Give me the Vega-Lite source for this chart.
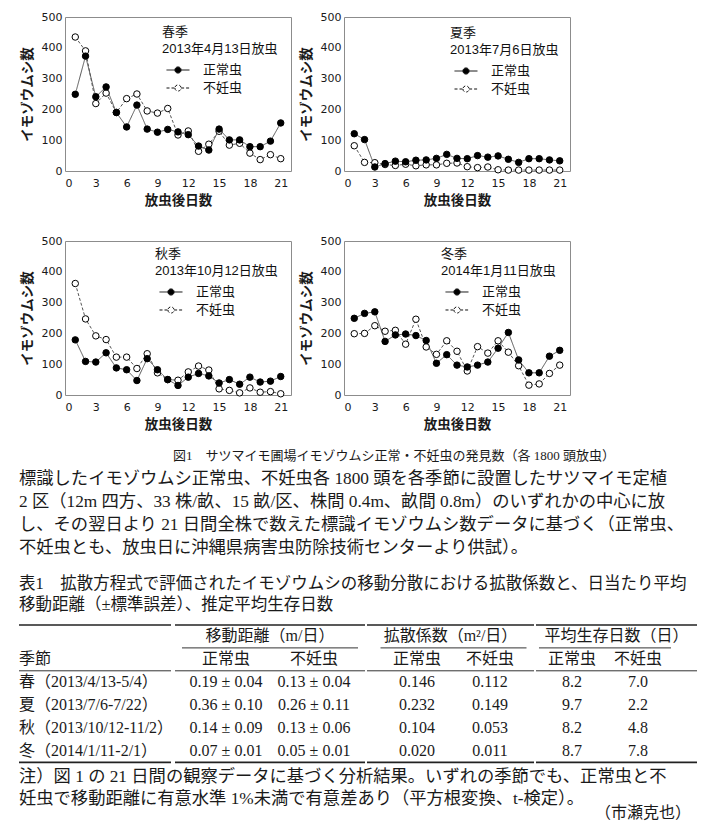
{
"$schema": "https://vega.github.io/schema/vega-lite/v6.json",
"padding": {"left": 18, "top": 10, "right": 0, "bottom": 0},
"background": "white",
"datasets": {
"obs": [
{"season":"春季","day":1,"正常虫":249,"不妊虫":435},{"season":"春季","day":2,"正常虫":373,"不妊虫":390},{"season":"春季","day":3,"正常虫":241,"不妊虫":219},{"season":"春季","day":4,"正常虫":273,"不妊虫":253},{"season":"春季","day":5,"正常虫":190,"不妊虫":190},{"season":"春季","day":6,"正常虫":143,"不妊虫":235},{"season":"春季","day":7,"正常虫":214,"不妊虫":250},{"season":"春季","day":8,"正常虫":136,"不妊虫":195},{"season":"春季","day":9,"正常虫":126,"不妊虫":188},{"season":"春季","day":10,"正常虫":135,"不妊虫":203},{"season":"春季","day":11,"正常虫":127,"不妊虫":117},{"season":"春季","day":12,"正常虫":118,"不妊虫":130},{"season":"春季","day":13,"正常虫":81,"不妊虫":64},{"season":"春季","day":14,"正常虫":68,"不妊虫":87},{"season":"春季","day":15,"正常虫":136,"不妊虫":129},{"season":"春季","day":16,"正常虫":101,"不妊虫":84},{"season":"春季","day":17,"正常虫":101,"不妊虫":90},{"season":"春季","day":18,"正常虫":79,"不妊虫":58},{"season":"春季","day":19,"正常虫":79,"不妊虫":37},{"season":"春季","day":20,"正常虫":97,"不妊虫":53},{"season":"春季","day":21,"正常虫":156,"不妊虫":40},
{"season":"夏季","day":1,"正常虫":121,"不妊虫":82},{"season":"夏季","day":2,"正常虫":102,"不妊虫":28},{"season":"夏季","day":3,"正常虫":13,"不妊虫":27},{"season":"夏季","day":4,"正常虫":24,"不妊虫":21},{"season":"夏季","day":5,"正常虫":32,"不妊虫":18},{"season":"夏季","day":6,"正常虫":30,"不妊虫":22},{"season":"夏季","day":7,"正常虫":35,"不妊虫":17},{"season":"夏季","day":8,"正常虫":36,"不妊虫":20},{"season":"夏季","day":9,"正常虫":41,"不妊虫":20},{"season":"夏季","day":10,"正常虫":54,"不妊虫":25},{"season":"夏季","day":11,"正常虫":41,"不妊虫":26},{"season":"夏季","day":12,"正常虫":40,"不妊虫":14},{"season":"夏季","day":13,"正常虫":50,"不妊虫":11},{"season":"夏季","day":14,"正常虫":45,"不妊虫":13},{"season":"夏季","day":15,"正常虫":49,"不妊虫":4},{"season":"夏季","day":16,"正常虫":38,"不妊虫":3},{"season":"夏季","day":17,"正常虫":28,"不妊虫":3},{"season":"夏季","day":18,"正常虫":40,"不妊虫":3},{"season":"夏季","day":19,"正常虫":40,"不妊虫":3},{"season":"夏季","day":20,"正常虫":36,"不妊虫":3},{"season":"夏季","day":21,"正常虫":33,"不妊虫":3},
{"season":"秋季","day":1,"正常虫":179,"不妊虫":362},{"season":"秋季","day":2,"正常虫":109,"不妊虫":247},{"season":"秋季","day":3,"正常虫":107,"不妊虫":192},{"season":"秋季","day":4,"正常虫":137,"不妊虫":180},{"season":"秋季","day":5,"正常虫":88,"不妊虫":123},{"season":"秋季","day":6,"正常虫":82,"不妊虫":123},{"season":"秋季","day":7,"正常虫":47,"不妊虫":86},{"season":"秋季","day":8,"正常虫":118,"不妊虫":134},{"season":"秋季","day":9,"正常虫":82,"不妊虫":72},{"season":"秋季","day":10,"正常虫":50,"不妊虫":50},{"season":"秋季","day":11,"正常虫":31,"不妊虫":48},{"season":"秋季","day":12,"正常虫":58,"不妊虫":75},{"season":"秋季","day":13,"正常虫":70,"不妊虫":94},{"season":"秋季","day":14,"正常虫":62,"不妊虫":81},{"season":"秋季","day":15,"正常虫":39,"不妊虫":20},{"season":"秋季","day":16,"正常虫":50,"不妊虫":15},{"season":"秋季","day":17,"正常虫":35,"不妊虫":7},{"season":"秋季","day":18,"正常虫":58,"不妊虫":23},{"season":"秋季","day":19,"正常虫":42,"不妊虫":9},{"season":"秋季","day":20,"正常虫":45,"不妊虫":11},{"season":"秋季","day":21,"正常虫":60,"不妊虫":4},
{"season":"冬季","day":1,"正常虫":249,"不妊虫":199},{"season":"冬季","day":2,"正常虫":265,"不妊虫":200},{"season":"冬季","day":3,"正常虫":270,"不妊虫":225},{"season":"冬季","day":4,"正常虫":174,"不妊虫":207},{"season":"冬季","day":5,"正常虫":195,"不妊虫":210},{"season":"冬季","day":6,"正常虫":198,"不妊虫":165},{"season":"冬季","day":7,"正常虫":193,"不妊虫":246},{"season":"冬季","day":8,"正常虫":177,"不妊虫":156},{"season":"冬季","day":9,"正常虫":103,"不妊虫":132},{"season":"冬季","day":10,"正常虫":131,"不妊虫":176},{"season":"冬季","day":11,"正常虫":97,"不妊虫":142},{"season":"冬季","day":12,"正常虫":91,"不妊虫":78},{"season":"冬季","day":13,"正常虫":97,"不妊虫":157},{"season":"冬季","day":14,"正常虫":107,"不妊虫":136},{"season":"冬季","day":15,"正常虫":152,"不妊虫":176},{"season":"冬季","day":16,"正常虫":203,"不妊虫":139},{"season":"冬季","day":17,"正常虫":114,"不妊虫":95},{"season":"冬季","day":18,"正常虫":72,"不妊虫":32},{"season":"冬季","day":19,"正常虫":72,"不妊虫":36},{"season":"冬季","day":20,"正常虫":126,"不妊虫":70},{"season":"冬季","day":21,"正常虫":145,"不妊虫":97}
],
"caption": [
{"line":"t","pos":"C","text":"図1　サツマイモ圃場イモゾウムシ正常・不妊虫の発見数（各 1800 頭放虫）"},
{"line":"b1","pos":"L","text":"標識したイモゾウムシ正常虫、不妊虫各 1800 頭を各季節に設置したサツマイモ定植"},
{"line":"b2","pos":"L","text":"2 区（12m 四方、33 株/畝、15 畝/区、株間 0.4m、畝間 0.8m）のいずれかの中心に放"},
{"line":"b3","pos":"L","text":"し、その翌日より 21 日間全株で数えた標識イモゾウムシ数データに基づく（正常虫、"},
{"line":"b4","pos":"L","text":"不妊虫とも、放虫日に沖縄県病害虫防除技術センターより供試）。"}
],
"ttitle": [
{"line":"t1","pos":"L","text":"表1　拡散方程式で評価されたイモゾウムシの移動分散における拡散係数と、日当たり平均"},
{"line":"t2","pos":"L","text":"移動距離（±標準誤差）、推定平均生存日数"}
],
"table": [
{"row":"h2","season":"季節","dn":"正常虫","ds":"不妊虫","cn":"正常虫","cs":"不妊虫","sn":"正常虫","ss":"不妊虫"},
{"row":"r1","season":"春（2013/4/13-5/4）","dn":"0.19 ± 0.04","ds":"0.13 ± 0.04","cn":"0.146","cs":"0.112","sn":"8.2","ss":"7.0"},
{"row":"r2","season":"夏（2013/7/6-7/22）","dn":"0.36 ± 0.10","ds":"0.26 ± 0.11","cn":"0.232","cs":"0.149","sn":"9.7","ss":"2.2"},
{"row":"r3","season":"秋（2013/10/12-11/2）","dn":"0.14 ± 0.09","ds":"0.13 ± 0.06","cn":"0.104","cs":"0.053","sn":"8.2","ss":"4.8"},
{"row":"r4","season":"冬（2014/1/11-2/1）","dn":"0.07 ± 0.01","ds":"0.05 ± 0.01","cn":"0.020","cs":"0.011","sn":"8.7","ss":"7.8"}
],
"groups": [
{"grp":"d","row":"h1","label":"移動距離（m/日）","first":"dn","last":"ds"},
{"grp":"c","row":"h1","label":"拡散係数（m²/日）","first":"cn","last":"cs"},
{"grp":"s","row":"h1","label":"平均生存日数（日）","first":"sn","last":"ss"}
],
"notes": [
{"line":"n1","pos":"L","text":"注）図 1 の 21 日間の観察データに基づく分析結果。いずれの季節でも、正常虫と不"},
{"line":"n2","pos":"L","text":"妊虫で移動距離に有意水準 1%未満で有意差あり（平方根変換、t-検定）。"},
{"line":"n2","pos":"R","text":"（市瀬克也）"}
]
},
"vconcat": [
{"vconcat": [
 {"hconcat": [
  {"width": 226, "height": 154, "data": {"name": "obs"},
   "transform": [{"filter": "datum.season === '春季'"}, {"fold": ["不妊虫", "正常虫"], "as": ["type", "count"]}],
   "encoding": {
    "x": {"field": "day", "type": "quantitative", "scale": {"domain": [0, 22], "nice": false}, "axis": {"values": [0,3,6,9,12,15,18,21], "title": "放虫後日数", "labelPadding": 6, "titlePadding": 5}},
    "y": {"field": "count", "type": "quantitative", "scale": {"domain": [0, 500], "nice": false}, "axis": {"values": [0,100,200,300,400,500], "title": "イモゾウムシ数", "labelPadding": 3, "titlePadding": 7}}},
   "layer": [
    {"mark": {"type": "line", "stroke": "#555555", "strokeWidth": 1}, "encoding": {"strokeDash": {"field": "type", "type": "nominal", "scale": {"domain": ["正常虫","不妊虫"], "range": [[1,0],[3,2]]}, "legend": {"title": ["春季", "2013年4月13日放虫"], "legendX": 97, "legendY": 9, "symbolType": "M-1,0L-0.27,0M0.27,0L1,0M-0.27,0A0.27,0.27,0,1,0,0.27,0A0.27,0.27,0,1,0,-0.27,0Z"}}}},
    {"mark": {"type": "point", "filled": true, "size": 42, "stroke": "#000000", "strokeWidth": 1, "opacity": 1}, "encoding": {"fill": {"field": "type", "type": "nominal", "scale": {"domain": ["正常虫","不妊虫"], "range": ["#000000","#ffffff"]}, "legend": {"title": ["春季", "2013年4月13日放虫"], "legendX": 97, "legendY": 9, "symbolType": "M-1,0L-0.27,0M0.27,0L1,0M-0.27,0A0.27,0.27,0,1,0,0.27,0A0.27,0.27,0,1,0,-0.27,0Z"}}}}
   ]},
  {"width": 226, "height": 154, "data": {"name": "obs"},
   "transform": [{"filter": "datum.season === '夏季'"}, {"fold": ["不妊虫", "正常虫"], "as": ["type", "count"]}],
   "encoding": {
    "x": {"field": "day", "type": "quantitative", "scale": {"domain": [0, 22], "nice": false}, "axis": {"values": [0,3,6,9,12,15,18,21], "title": "放虫後日数", "labelPadding": 6, "titlePadding": 5}},
    "y": {"field": "count", "type": "quantitative", "scale": {"domain": [0, 500], "nice": false}, "axis": {"values": [0,100,200,300,400,500], "title": "イモゾウムシ数", "labelPadding": 3, "titlePadding": 7}}},
   "layer": [
    {"mark": {"type": "line", "stroke": "#555555", "strokeWidth": 1}, "encoding": {"strokeDash": {"field": "type", "type": "nominal", "scale": {"domain": ["正常虫","不妊虫"], "range": [[1,0],[3,2]]}, "legend": {"title": ["夏季", "2013年7月6日放虫"], "legendX": 106, "legendY": 10, "symbolType": "M-1,0L-0.27,0M0.27,0L1,0M-0.27,0A0.27,0.27,0,1,0,0.27,0A0.27,0.27,0,1,0,-0.27,0Z"}}}},
    {"mark": {"type": "point", "filled": true, "size": 42, "stroke": "#000000", "strokeWidth": 1, "opacity": 1}, "encoding": {"fill": {"field": "type", "type": "nominal", "scale": {"domain": ["正常虫","不妊虫"], "range": ["#000000","#ffffff"]}, "legend": {"title": ["夏季", "2013年7月6日放虫"], "legendX": 106, "legendY": 10, "symbolType": "M-1,0L-0.27,0M0.27,0L1,0M-0.27,0A0.27,0.27,0,1,0,0.27,0A0.27,0.27,0,1,0,-0.27,0Z"}}}}
   ]}
 ], "spacing": 6, "resolve": {"scale": {"fill": "independent", "strokeDash": "independent"}, "legend": {"fill": "independent", "strokeDash": "independent"}}},
 {"hconcat": [
  {"width": 226, "height": 154, "data": {"name": "obs"},
   "transform": [{"filter": "datum.season === '秋季'"}, {"fold": ["不妊虫", "正常虫"], "as": ["type", "count"]}],
   "encoding": {
    "x": {"field": "day", "type": "quantitative", "scale": {"domain": [0, 22], "nice": false}, "axis": {"values": [0,3,6,9,12,15,18,21], "title": "放虫後日数", "labelPadding": 6, "titlePadding": 5}},
    "y": {"field": "count", "type": "quantitative", "scale": {"domain": [0, 500], "nice": false}, "axis": {"values": [0,100,200,300,400,500], "title": "イモゾウムシ数", "labelPadding": 3, "titlePadding": 7}}},
   "layer": [
    {"mark": {"type": "line", "stroke": "#555555", "strokeWidth": 1}, "encoding": {"strokeDash": {"field": "type", "type": "nominal", "scale": {"domain": ["正常虫","不妊虫"], "range": [[1,0],[3,2]]}, "legend": {"title": ["秋季", "2013年10月12日放虫"], "legendX": 90, "legendY": 7, "symbolType": "M-1,0L-0.27,0M0.27,0L1,0M-0.27,0A0.27,0.27,0,1,0,0.27,0A0.27,0.27,0,1,0,-0.27,0Z"}}}},
    {"mark": {"type": "point", "filled": true, "size": 42, "stroke": "#000000", "strokeWidth": 1, "opacity": 1}, "encoding": {"fill": {"field": "type", "type": "nominal", "scale": {"domain": ["正常虫","不妊虫"], "range": ["#000000","#ffffff"]}, "legend": {"title": ["秋季", "2013年10月12日放虫"], "legendX": 90, "legendY": 7, "symbolType": "M-1,0L-0.27,0M0.27,0L1,0M-0.27,0A0.27,0.27,0,1,0,0.27,0A0.27,0.27,0,1,0,-0.27,0Z"}}}}
   ]},
  {"width": 226, "height": 154, "data": {"name": "obs"},
   "transform": [{"filter": "datum.season === '冬季'"}, {"fold": ["不妊虫", "正常虫"], "as": ["type", "count"]}],
   "encoding": {
    "x": {"field": "day", "type": "quantitative", "scale": {"domain": [0, 22], "nice": false}, "axis": {"values": [0,3,6,9,12,15,18,21], "title": "放虫後日数", "labelPadding": 6, "titlePadding": 5}},
    "y": {"field": "count", "type": "quantitative", "scale": {"domain": [0, 500], "nice": false}, "axis": {"values": [0,100,200,300,400,500], "title": "イモゾウムシ数", "labelPadding": 3, "titlePadding": 7}}},
   "layer": [
    {"mark": {"type": "line", "stroke": "#555555", "strokeWidth": 1}, "encoding": {"strokeDash": {"field": "type", "type": "nominal", "scale": {"domain": ["正常虫","不妊虫"], "range": [[1,0],[3,2]]}, "legend": {"title": ["冬季", "2014年1月11日放虫"], "legendX": 97, "legendY": 7, "symbolType": "M-1,0L-0.27,0M0.27,0L1,0M-0.27,0A0.27,0.27,0,1,0,0.27,0A0.27,0.27,0,1,0,-0.27,0Z"}}}},
    {"mark": {"type": "point", "filled": true, "size": 42, "stroke": "#000000", "strokeWidth": 1, "opacity": 1}, "encoding": {"fill": {"field": "type", "type": "nominal", "scale": {"domain": ["正常虫","不妊虫"], "range": ["#000000","#ffffff"]}, "legend": {"title": ["冬季", "2014年1月11日放虫"], "legendX": 97, "legendY": 7, "symbolType": "M-1,0L-0.27,0M0.27,0L1,0M-0.27,0A0.27,0.27,0,1,0,0.27,0A0.27,0.27,0,1,0,-0.27,0Z"}}}}
   ]}
 ], "spacing": 6, "resolve": {"scale": {"fill": "independent", "strokeDash": "independent"}, "legend": {"fill": "independent", "strokeDash": "independent"}}}
], "spacing": 27, "resolve": {"scale": {"fill": "independent", "strokeDash": "independent"}, "legend": {"fill": "independent", "strokeDash": "independent"}}},
{"vconcat": [
 {"width": 626, "height": 129.05, "data": {"name": "caption"}, "view": {"stroke": null},
  "encoding": {
   "y": {"field": "line", "type": "nominal", "axis": null, "scale": {"type": "band", "domain": ["t","b1","b2","b3","b4"], "paddingInner": 0, "paddingOuter": 0.2933, "align": 0}},
   "x": {"field": "pos", "type": "nominal", "axis": null, "scale": {"type": "point", "domain": ["L","C"], "range": [-46, 329], "padding": 0}},
   "text": {"field": "text"}},
  "layer": [
   {"transform": [{"filter": "datum.pos === 'C'"}], "mark": {"type": "text", "align": "center", "baseline": "middle", "font": "Liberation Serif, Noto Sans CJK JP", "fontSize": 13, "color": "#1a1a1a"}},
   {"transform": [{"filter": "datum.pos === 'L'"}], "mark": {"type": "text", "align": "left", "baseline": "middle", "font": "Liberation Serif, Noto Sans CJK JP", "fontSize": 17.3, "color": "#1a1a1a"}}
  ]},
 {"width": 626, "height": 49.5, "data": {"name": "ttitle"}, "view": {"stroke": null},
  "mark": {"type": "text", "align": "left", "baseline": "middle", "font": "Liberation Serif, Noto Sans CJK JP", "fontSize": 16.5, "color": "#1a1a1a"},
  "encoding": {
   "y": {"field": "line", "type": "nominal", "axis": null, "scale": {"type": "band", "domain": ["t1","t2"], "paddingInner": 0, "paddingOuter": 0.1786, "align": 0}},
   "x": {"field": "pos", "type": "nominal", "axis": null, "scale": {"type": "point", "domain": ["L","R"], "range": [-46, 626], "padding": 0}},
   "text": {"field": "text"}}},
 {"hconcat": [
  {"width": 106, "height": 137.4, "view": {"stroke": null},
   "encoding": {
    "y": {"field": "row", "type": "nominal", "axis": null, "scale": {"type": "band", "domain": ["h1","h2","r1","r2","r3","r4"], "paddingInner": 0, "paddingOuter": 0}},
    "x": {"datum": "L", "type": "nominal", "axis": null, "scale": {"type": "point", "domain": ["L","R"], "range": [-46, 106], "padding": 0}}},
   "layer": [
    {"data": {"name": "table"}, "mark": {"type": "text", "align": "left", "baseline": "middle", "font": "Liberation Serif, Noto Sans CJK JP", "fontSize": 16, "color": "#1a1a1a"},
     "encoding": {"text": {"field": "season"}}},
    {"data": {"name": "groups"}, "transform": [{"filter": "datum.grp === 'd'"}], "mark": {"type": "rule", "stroke": "#222222", "strokeWidth": 1.6}, "encoding": {"y": {"field": "row", "type": "nominal", "bandPosition": 0, "axis": null}, "x2": {"datum": "R"}}},
    {"data": {"name": "table"}, "transform": [{"filter": "datum.row === 'h2'"}], "mark": {"type": "rule", "stroke": "#333333", "strokeWidth": 1}, "encoding": {"y": {"field": "row", "type": "nominal", "bandPosition": 1, "axis": null}, "x2": {"datum": "R"}}},
    {"data": {"name": "table"}, "transform": [{"filter": "datum.row === 'r4'"}], "mark": {"type": "rule", "stroke": "#222222", "strokeWidth": 1.6}, "encoding": {"y": {"field": "row", "type": "nominal", "bandPosition": 1, "axis": null}, "x2": {"datum": "R"}}}
   ]},
  {"width": 190, "height": 137.4, "view": {"stroke": null},
   "encoding": {"y": {"field": "row", "type": "nominal", "axis": null, "scale": {"type": "band", "domain": ["h1","h2","r1","r2","r3","r4"], "paddingInner": 0, "paddingOuter": 0}}},
   "layer": [
    {"data": {"name": "table"}, "transform": [{"fold": ["dn","ds"], "as": ["col","cell"]}], "mark": {"type": "text", "align": "center", "baseline": "middle", "font": "Liberation Serif, Noto Sans CJK JP", "fontSize": 16, "color": "#1a1a1a"},
     "encoding": {"x": {"field": "col", "type": "nominal", "axis": null, "scale": {"type": "band", "domain": ["dn","ds"], "paddingInner": 0, "paddingOuter": 0.0795, "align": 0.5}}, "text": {"field": "cell"}}},
    {"data": {"name": "groups"}, "transform": [{"filter": "datum.grp === 'd'"}], "mark": {"type": "text", "align": "center", "baseline": "middle", "font": "Liberation Serif, Noto Sans CJK JP", "fontSize": 16, "color": "#1a1a1a"},
     "encoding": {"text": {"field": "label"}}},
    {"data": {"name": "groups"}, "transform": [{"filter": "datum.grp === 'd'"}], "mark": {"type": "rule", "stroke": "#333333", "strokeWidth": 1},
     "encoding": {"y": {"field": "row", "type": "nominal", "bandPosition": 1, "axis": null}, "x": {"field": "first", "type": "nominal", "bandPosition": 0, "axis": null}, "x2": {"field": "last", "bandPosition": 1}}},
    {"data": {"name": "groups"}, "transform": [{"filter": "datum.grp === 'd'"}], "mark": {"type": "rule", "stroke": "#222222", "strokeWidth": 1.6}, "encoding": {"y": {"field": "row", "type": "nominal", "bandPosition": 0, "axis": null}}},
    {"data": {"name": "table"}, "transform": [{"filter": "datum.row === 'h2'"}], "mark": {"type": "rule", "stroke": "#333333", "strokeWidth": 1}, "encoding": {"y": {"field": "row", "type": "nominal", "bandPosition": 1, "axis": null}}},
    {"data": {"name": "table"}, "transform": [{"filter": "datum.row === 'r4'"}], "mark": {"type": "rule", "stroke": "#222222", "strokeWidth": 1.6}, "encoding": {"y": {"field": "row", "type": "nominal", "bandPosition": 1, "axis": null}}}
   ]},
  {"width": 167, "height": 137.4, "view": {"stroke": null},
   "encoding": {"y": {"field": "row", "type": "nominal", "axis": null, "scale": {"type": "band", "domain": ["h1","h2","r1","r2","r3","r4"], "paddingInner": 0, "paddingOuter": 0}}},
   "layer": [
    {"data": {"name": "table"}, "transform": [{"fold": ["cn","cs"], "as": ["col","cell"]}], "mark": {"type": "text", "align": "center", "baseline": "middle", "font": "Liberation Serif, Noto Sans CJK JP", "fontSize": 16, "color": "#1a1a1a"},
     "encoding": {"x": {"field": "col", "type": "nominal", "axis": null, "scale": {"type": "band", "domain": ["cn","cs"], "paddingInner": 0, "paddingOuter": 0.1438, "align": 0.643}}, "text": {"field": "cell"}}},
    {"data": {"name": "groups"}, "transform": [{"filter": "datum.grp === 'c'"}], "mark": {"type": "text", "align": "center", "baseline": "middle", "font": "Liberation Serif, Noto Sans CJK JP", "fontSize": 16, "color": "#1a1a1a"},
     "encoding": {"text": {"field": "label"}}},
    {"data": {"name": "groups"}, "transform": [{"filter": "datum.grp === 'c'"}], "mark": {"type": "rule", "stroke": "#333333", "strokeWidth": 1},
     "encoding": {"y": {"field": "row", "type": "nominal", "bandPosition": 1, "axis": null}, "x": {"field": "first", "type": "nominal", "bandPosition": 0, "axis": null}, "x2": {"field": "last", "bandPosition": 1}}},
    {"data": {"name": "groups"}, "transform": [{"filter": "datum.grp === 'c'"}], "mark": {"type": "rule", "stroke": "#222222", "strokeWidth": 1.6}, "encoding": {"y": {"field": "row", "type": "nominal", "bandPosition": 0, "axis": null}}},
    {"data": {"name": "table"}, "transform": [{"filter": "datum.row === 'h2'"}], "mark": {"type": "rule", "stroke": "#333333", "strokeWidth": 1}, "encoding": {"y": {"field": "row", "type": "nominal", "bandPosition": 1, "axis": null}}},
    {"data": {"name": "table"}, "transform": [{"filter": "datum.row === 'r4'"}], "mark": {"type": "rule", "stroke": "#222222", "strokeWidth": 1.6}, "encoding": {"y": {"field": "row", "type": "nominal", "bandPosition": 1, "axis": null}}}
   ]},
  {"width": 161, "height": 137.4, "view": {"stroke": null},
   "encoding": {"y": {"field": "row", "type": "nominal", "axis": null, "scale": {"type": "band", "domain": ["h1","h2","r1","r2","r3","r4"], "paddingInner": 0, "paddingOuter": 0}}},
   "layer": [
    {"data": {"name": "table"}, "transform": [{"fold": ["sn","ss"], "as": ["col","cell"]}], "mark": {"type": "text", "align": "center", "baseline": "middle", "font": "Liberation Serif, Noto Sans CJK JP", "fontSize": 16, "color": "#1a1a1a"},
     "encoding": {"x": {"field": "col", "type": "nominal", "axis": null, "scale": {"type": "band", "domain": ["sn","ss"], "paddingInner": 0, "paddingOuter": 0.2197, "align": 0.1034}}, "text": {"field": "cell"}}},
    {"data": {"name": "groups"}, "transform": [{"filter": "datum.grp === 's'"}], "mark": {"type": "text", "align": "center", "baseline": "middle", "font": "Liberation Serif, Noto Sans CJK JP", "fontSize": 16, "color": "#1a1a1a"},
     "encoding": {"text": {"field": "label"}}},
    {"data": {"name": "groups"}, "transform": [{"filter": "datum.grp === 's'"}], "mark": {"type": "rule", "stroke": "#333333", "strokeWidth": 1},
     "encoding": {"y": {"field": "row", "type": "nominal", "bandPosition": 1, "axis": null}, "x": {"field": "first", "type": "nominal", "bandPosition": 0, "axis": null}, "x2": {"field": "last", "bandPosition": 1}}},
    {"data": {"name": "groups"}, "transform": [{"filter": "datum.grp === 's'"}], "mark": {"type": "rule", "stroke": "#222222", "strokeWidth": 1.6}, "encoding": {"y": {"field": "row", "type": "nominal", "bandPosition": 0, "axis": null}}},
    {"data": {"name": "table"}, "transform": [{"filter": "datum.row === 'h2'"}], "mark": {"type": "rule", "stroke": "#333333", "strokeWidth": 1}, "encoding": {"y": {"field": "row", "type": "nominal", "bandPosition": 1, "axis": null}}},
    {"data": {"name": "table"}, "transform": [{"filter": "datum.row === 'r4'"}], "mark": {"type": "rule", "stroke": "#222222", "strokeWidth": 1.6}, "encoding": {"y": {"field": "row", "type": "nominal", "bandPosition": 1, "axis": null}}}
   ]}
 ], "spacing": 0},
 {"width": 626, "height": 45.6, "data": {"name": "notes"}, "view": {"stroke": null},
  "encoding": {
   "y": {"field": "line", "type": "nominal", "axis": null, "scale": {"type": "band", "domain": ["n1","n2"], "paddingInner": 0, "paddingOuter": 0.036, "align": 1}},
   "x": {"field": "pos", "type": "nominal", "axis": null, "scale": {"type": "point", "domain": ["L","R"], "range": [-46, 626], "padding": 0}},
   "text": {"field": "text"}},
  "layer": [
   {"transform": [{"filter": "datum.pos === 'L'"}], "mark": {"type": "text", "align": "left", "baseline": "middle", "font": "Liberation Serif, Noto Sans CJK JP", "fontSize": 17.3, "color": "#1a1a1a"}},
   {"transform": [{"filter": "datum.pos === 'R'"}], "mark": {"type": "text", "align": "right", "baseline": "middle", "dy": 14, "font": "Liberation Serif, Noto Sans CJK JP", "fontSize": 16, "color": "#1a1a1a"}}
  ]}
], "spacing": 0}
],
"spacing": 13,
"resolve": {"scale": {"fill": "independent", "strokeDash": "independent"}, "legend": {"fill": "independent", "strokeDash": "independent"}},
"config": {
 "view": {"stroke": "#8c8c8c", "strokeWidth": 1},
 "axis": {"domain": false, "ticks": false, "grid": false, "labelFont": "DejaVu Sans", "labelFontSize": 11, "labelColor": "#1a1a1a", "titleFont": "Noto Sans CJK JP", "titleFontSize": 13.5, "titleFontWeight": "bold", "titleColor": "#1a1a1a"},
 "legend": {"orient": "none", "padding": 0, "titleFont": "Liberation Sans, Noto Sans CJK JP", "titleFontSize": 13, "titleFontWeight": "normal", "titleColor": "#111111", "titleLineHeight": 17.3, "titlePadding": 6, "labelFont": "Liberation Sans, Noto Sans CJK JP", "labelFontSize": 13, "labelColor": "#111111", "symbolSize": 529, "symbolStrokeWidth": 1, "symbolStrokeColor": "#111111", "symbolOffset": 4, "labelOffset": 13, "clipHeight": 15.4, "rowPadding": 2}
}
}
